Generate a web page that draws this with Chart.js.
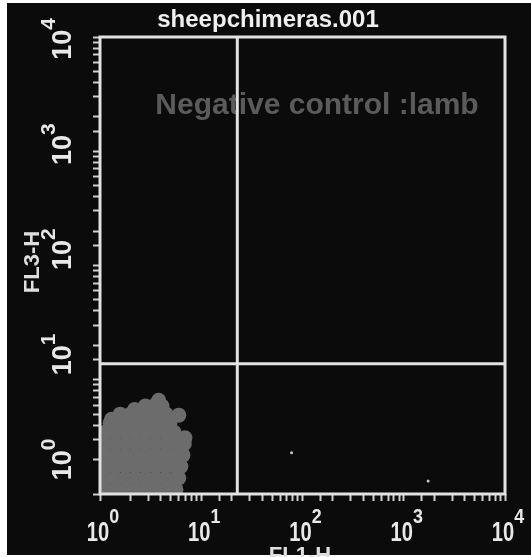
<!DOCTYPE html>
<html>
<head>
  <meta charset="UTF-8">
  <title>sheepchimeras.001</title>
  <style>
    body {
      margin: 0;
      background: #ffffff;
    }
    #wrap {
      width: 531px;
      height: 557px;
    }
  </style>
</head>
<body>
  <div id="wrap">
    <canvas id="dotplot" width="531" height="557"></canvas>
  </div>

  <script src="https://cdn.jsdelivr.net/npm/chart.js"></script>
  <script>
    // axis range and decade labels
    const axisMin = 1;
    const axisMax = 10000;
    const decadeTicks = [1, 10, 100, 1000, 10000];

    // quadrant gate (FL1-H, FL3-H)
    const gateX = 22.7;
    const gateY = 13.8;

    // main cell population, [FL1-H, FL3-H]
    const cloudPoints = [
      [1.12, 1.1], [1.41, 1.1], [1.78, 1.1], [2.24, 1.1], [2.82, 1.1], [3.55, 1.1], [4.47, 1.1], [5.62, 1.1],
      [1.12, 1.38], [1.41, 1.38], [1.78, 1.38], [2.24, 1.38], [2.82, 1.38], [3.55, 1.38], [4.47, 1.38], [5.62, 1.38], [6.0, 1.38],
      [1.12, 1.74], [1.41, 1.74], [1.78, 1.74], [2.24, 1.74], [2.82, 1.74], [3.55, 1.74], [4.47, 1.74], [5.62, 1.74], [6.3, 1.74],
      [1.12, 2.19], [1.41, 2.19], [1.78, 2.19], [2.24, 2.19], [2.82, 2.19], [3.55, 2.19], [4.47, 2.19], [5.62, 2.19], [6.6, 2.19],
      [1.12, 2.75], [1.41, 2.75], [1.78, 2.75], [2.24, 2.75], [2.82, 2.75], [3.55, 2.75], [4.47, 2.75], [5.62, 2.75], [6.8, 2.75],
      [1.12, 3.47], [1.41, 3.47], [1.78, 3.47], [2.24, 3.47], [2.82, 3.47], [3.55, 3.47], [4.47, 3.47], [5.4, 3.47],
      [1.26, 4.17], [1.58, 4.17], [2.0, 4.17], [2.5, 4.17], [3.16, 4.17], [3.98, 4.17], [4.9, 4.17],
      [1.58, 5.0], [2.0, 5.0], [2.5, 5.0], [3.16, 5.0], [3.98, 5.0], [4.5, 5.0],
      [2.8, 5.9], [3.5, 6.0], [4.1, 5.9],
      [3.8, 6.6], [2.2, 5.5], [6.0, 4.9], [6.9, 3.1], [1.3, 4.5]
    ];

    // darker specks inside the population
    const darkSpecks = [[1.4, 1.7], [1.6, 1.9], [1.25, 1.5], [2.6, 3.0], [3.3, 4.2], [4.5, 3.6], [1.9, 1.35], [2.9, 4.8], [4.2, 2.4]];

    // a few isolated events
    const strayPoints = [[78, 2.3], [1740, 1.3]];

    const frame = {
      id: 'frame',
      beforeDraw(chart) {
        const ctx = chart.ctx;
        ctx.save();
        ctx.fillStyle = '#ffffff';
        ctx.fillRect(0, 0, chart.width, chart.height);
        ctx.fillStyle = '#0b0b0b';
        ctx.fillRect(7, 3, chart.width - 7, chart.height - 5);
        ctx.restore();
      },
      beforeDatasetsDraw(chart) {
        const ctx = chart.ctx;
        const area = chart.chartArea;
        const xs = chart.scales.x;
        const ys = chart.scales.y;
        ctx.save();
        ctx.textBaseline = 'alphabetic';

        // title
        ctx.fillStyle = '#efefef';
        ctx.font = 'bold 24px "Liberation Sans", Arial, sans-serif';
        ctx.textAlign = 'center';
        ctx.fillText('sheepchimeras.001', 268, 27);

        // sample note
        ctx.fillStyle = '#5b5b5b';
        ctx.font = 'bold 30px "Liberation Sans", Arial, sans-serif';
        ctx.fillText('Negative control :lamb', 317, 114);

        // axis titles
        ctx.fillStyle = '#dedede';
        ctx.font = 'bold 22px "Liberation Sans", Arial, sans-serif';
        ctx.fillText('FL1-H', 300, 562);
        ctx.save();
        ctx.translate(39, 262);
        ctx.rotate(-Math.PI / 2);
        ctx.fillText('FL3-H', 0, 0);
        ctx.restore();

        // tick labels 10^n
        ctx.textAlign = 'left';
        ctx.fillStyle = '#e8e8e8';
        decadeTicks.forEach(v => {
          const exp = String(Math.round(Math.log10(v)));

          // x axis
          ctx.font = 'bold 28px "Liberation Sans", Arial, sans-serif';
          const wBase = ctx.measureText('10').width * 0.72;
          ctx.font = 'bold 21px "Liberation Sans", Arial, sans-serif';
          const wExp = ctx.measureText(exp).width * 0.85;
          const px = xs.getPixelForValue(v);
          const start = px + 3 - (wBase + wExp) / 2;
          ctx.save();
          ctx.translate(start, 541);
          ctx.scale(0.72, 1);
          ctx.font = 'bold 28px "Liberation Sans", Arial, sans-serif';
          ctx.fillText('10', 0, 0);
          ctx.restore();
          ctx.save();
          ctx.translate(start + wBase, 523);
          ctx.scale(0.85, 1);
          ctx.font = 'bold 21px "Liberation Sans", Arial, sans-serif';
          ctx.fillText(exp, 0, 0);
          ctx.restore();

          // y axis, rotated
          ctx.font = 'bold 27px "Liberation Sans", Arial, sans-serif';
          const yBase = ctx.measureText('10').width;
          ctx.font = 'bold 21px "Liberation Sans", Arial, sans-serif';
          const yExp = ctx.measureText(exp).width;
          const py = ys.getPixelForValue(v);
          const cy = area.top + (py - area.top) * 0.92 + 2;
          ctx.save();
          ctx.translate(71, cy + (yBase + yExp) / 2);
          ctx.rotate(-Math.PI / 2);
          ctx.font = 'bold 27px "Liberation Sans", Arial, sans-serif';
          ctx.fillText('10', 0, 0);
          ctx.font = 'bold 21px "Liberation Sans", Arial, sans-serif';
          ctx.fillText(exp, yBase, -16);
          ctx.restore();
        });
        ctx.restore();
      },
      afterDatasetsDraw(chart) {
        const ctx = chart.ctx;
        const area = chart.chartArea;
        const gx = chart.scales.x.getPixelForValue(gateX);
        const gy = chart.scales.y.getPixelForValue(gateY);
        ctx.save();
        ctx.strokeStyle = '#e2e2e2';
        ctx.lineWidth = 3;
        ctx.strokeRect(area.left, area.top, area.right - area.left, area.bottom - area.top);
        ctx.beginPath();
        ctx.moveTo(gx, area.top);
        ctx.lineTo(gx, area.bottom);
        ctx.moveTo(area.left, gy);
        ctx.lineTo(area.right, gy);
        ctx.stroke();
        ctx.restore();
      }
    };

    const axisOpts = {
      type: 'logarithmic',
      min: axisMin,
      max: axisMax,
      border: { display: false },
      grid: {
        drawOnChartArea: false,
        drawTicks: true,
        tickLength: 7,
        tickColor: '#cfcfcf',
        tickWidth: 2
      },
      ticks: { display: false, autoSkip: false }
    };

    const ctx = document.getElementById('dotplot').getContext('2d');
    new Chart(ctx, {
      type: 'scatter',
      data: {
        datasets: [
          {
            data: cloudPoints.map(p => ({ x: p[0], y: p[1] })),
            backgroundColor: '#6c6c6c',
            pointRadius: 7.5,
            borderWidth: 0
          },
          {
            data: darkSpecks.map(p => ({ x: p[0], y: p[1] })),
            backgroundColor: '#4a4a4a',
            pointRadius: 2,
            borderWidth: 0
          },
          {
            data: strayPoints.map(p => ({ x: p[0], y: p[1] })),
            backgroundColor: '#c8c8c8',
            pointRadius: 1.5,
            borderWidth: 0
          }
        ]
      },
      options: {
        responsive: false,
        animation: false,
        layout: { padding: { top: 37, right: 26, left: 0, bottom: 0 } },
        plugins: {
          legend: { display: false },
          tooltip: { enabled: false }
        },
        scales: {
          x: Object.assign({}, axisOpts, {
            afterFit(scale) { scale.height = 63; }
          }),
          y: Object.assign({}, axisOpts, {
            afterFit(scale) { scale.width = 100; }
          })
        }
      },
      plugins: [frame]
    });
  </script>
</body>
</html>
